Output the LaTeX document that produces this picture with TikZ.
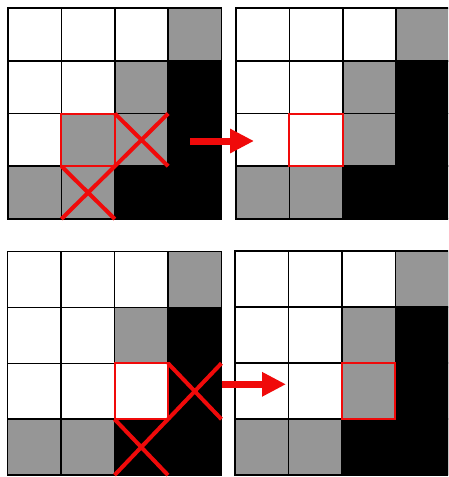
\documentclass[tikz,border=0pt]{standalone}
\usepackage{xcolor}
\usepackage{tikz}
\usetikzlibrary{arrows.meta}

\definecolor{cellw}{RGB}{255,255,255}
\definecolor{cellg}{RGB}{150,150,150}
\definecolor{cellk}{RGB}{0,0,0}
\definecolor{mark}{RGB}{240,10,10}

\begin{document}
\begin{tikzpicture}[
  x=1pt, y=-1pt,
  cell/.style={draw=black, line width=1.6pt, fill=cell#1, inner sep=0pt, outer sep=0pt, minimum width=53.4pt},
  hilite/.style={draw=mark, line width=2pt},
  cross/.style={draw=mark, line width=4pt},
  arr/.style={-{Triangle[length=24pt, width=23pt]}, draw=mark, fill=mark, line width=7pt}
]
  \useasboundingbox (0,0) rectangle (448,477);
  \clip (0,0) rectangle (448,477);

  % top left grid
  \foreach \c [count=\n from 0] in {w,w,w,g, w,w,g,k, w,g,g,k, g,g,k,k}
    \node[cell=\c, minimum height=52.75pt] (a-\n) at ({8+53.4*(mod(\n,4)+0.5)}, {8+52.75*(int(\n/4)+0.5)}) {};
  % top right grid
  \foreach \c [count=\n from 0] in {w,w,w,g, w,w,g,k, w,w,g,k, g,g,k,k}
    \node[cell=\c, minimum height=52.75pt] (b-\n) at ({236+53.4*(mod(\n,4)+0.5)}, {8+52.75*(int(\n/4)+0.5)}) {};
  % bottom left grid
  \foreach \c [count=\n from 0] in {w,w,w,g, w,w,g,k, w,w,w,k, g,g,k,k}
    \node[cell=\c, minimum height=55.9pt] (c-\n) at ({7.5+53.5*(mod(\n,4)+0.5)}, {251.5+55.9*(int(\n/4)+0.5)}) {};
  % bottom right grid
  \foreach \c [count=\n from 0] in {w,w,w,g, w,w,g,k, w,w,g,k, g,g,k,k}
    \node[cell=\c, minimum height=56pt] (d-\n) at ({235+53.5*(mod(\n,4)+0.5)}, {251+56*(int(\n/4)+0.5)}) {};

  % marked cells
  \draw[hilite] (a-9.north west) rectangle (a-9.south east);
  \draw[hilite] (b-9.north west) rectangle (b-9.south east);
  \draw[hilite] (c-10.north west) rectangle (c-10.south east);
  \draw[hilite] (d-10.north west) rectangle (d-10.south east);

  % removed cells
  \foreach \x in {a-10, a-13, c-11, c-14}
    \draw[cross] (\x.north west) -- (\x.south east) (\x.north east) -- (\x.south west);

  % arrows
  \coordinate (topfrom) at (190,141);
  \coordinate (topto) at (254,141);
  \coordinate (botfrom) at (221.5,384.3);
  \coordinate (botto) at (286,384.3);
  \draw[arr] (topfrom) -- (topto);
  \draw[arr] (botfrom) -- (botto);
\end{tikzpicture}
\end{document}
